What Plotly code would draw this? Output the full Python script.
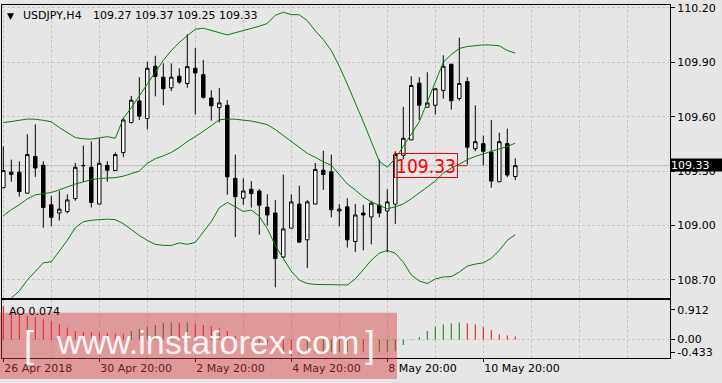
import plotly.graph_objects as go

# ---------------- data ----------------
bar_index = list(range(65))  # H4 bars, 26 Apr 20:00 ... 11 May 12:00

opens = [109.208, 109.294, 109.294, 109.178, 109.381, 109.332, 109.114, 109.069, 109.077, 109.148,
         109.331, 109.321, 109.118, 109.331, 109.303, 109.402, 109.568, 109.687, 109.590, 109.878,
         109.818, 109.759, 109.823, 109.783, 109.867, 109.832, 109.703, 109.650, 109.663, 109.260,
         109.150, 109.200, 109.190, 109.101, 109.069, 108.826, 108.985, 109.118, 108.921, 109.118,
         109.305, 109.296, 109.080, 109.103, 108.912, 109.069, 109.047, 109.112, 109.080, 109.118,
         109.387, 109.472, 109.785, 109.652, 109.663, 109.745, 109.889, 109.700, 109.794, 109.423,
         109.451, 109.405, 109.241, 109.451, 109.27]
highs = [109.436, 109.363, 109.354, 109.503, 109.558, 109.354, 109.163, 109.190, 109.172, 109.345,
         109.441, 109.463, 109.481, 109.354, 109.403, 109.594, 109.714, 109.818, 109.903, 109.936,
         109.894, 109.894, 109.867, 110.054, 109.978, 109.913, 109.745, 109.758, 109.691, 109.391,
         109.260, 109.245, 109.200, 109.172, 109.140, 109.281, 109.172, 109.220, 109.140, 109.345,
         109.412, 109.391, 109.118, 109.150, 109.118, 109.114, 109.136, 109.363, 109.200, 109.409,
         109.654, 109.823, 109.818, 109.845, 109.754, 109.939, 109.892, 110.036, 109.818, 109.663,
         109.496, 109.582, 109.512, 109.534, 109.37]
lows = [109.208, 109.241, 109.159, 109.178, 109.268, 108.987, 108.996, 109.027, 109.067, 109.136,
        109.241, 109.099, 109.118, 109.241, 109.303, 109.376, 109.563, 109.582, 109.530, 109.712,
        109.663, 109.741, 109.781, 109.759, 109.612, 109.699, 109.578, 109.568, 109.169, 108.936,
        109.114, 109.099, 108.949, 109.000, 108.659, 108.820, 108.985, 108.908, 108.766, 109.118,
        109.196, 109.045, 108.996, 108.878, 108.854, 108.863, 108.896, 109.045, 108.852, 109.009,
        109.365, 109.472, 109.582, 109.652, 109.612, 109.699, 109.639, 109.688, 109.336, 109.409,
        109.332, 109.208, 109.241, 109.267, 109.25]
closes = [109.303, 109.281, 109.187, 109.391, 109.317, 109.099, 109.045, 109.090, 109.141, 109.321,
          109.330, 109.127, 109.343, 109.305, 109.391, 109.582, 109.691, 109.603, 109.867, 109.822,
          109.754, 109.818, 109.791, 109.876, 109.841, 109.707, 109.660, 109.676, 109.268, 109.159,
          109.190, 109.176, 109.112, 109.058, 108.818, 108.981, 109.130, 108.908, 109.130, 109.309,
          109.281, 109.087, 109.090, 108.921, 109.058, 109.058, 109.123, 109.069, 109.130, 109.391,
          109.481, 109.772, 109.663, 109.676, 109.754, 109.878, 109.688, 109.783, 109.432, 109.462,
          109.409, 109.245, 109.462, 109.278, 109.33]

bb_upper = [109.567, 109.572, 109.580, 109.587, 109.586, 109.580, 109.572, 109.540, 109.510, 109.485,
            109.478, 109.476, 109.483, 109.490, 109.481, 109.590, 109.649, 109.714, 109.780, 109.840,
            109.911, 109.965, 110.009, 110.047, 110.082, 110.088, 110.077, 110.063, 110.051, 110.063,
            110.074, 110.085, 110.099, 110.114, 110.159, 110.176, 110.163, 110.162, 110.129, 110.074,
            110.025, 109.965, 109.878, 109.780, 109.681, 109.572, 109.463, 109.354, 109.321, 109.370,
            109.436, 109.507, 109.572, 109.681, 109.791, 109.900, 109.943, 109.976, 109.987, 109.991,
            109.996, 109.995, 109.991, 109.965, 109.951]
bb_middle = [109.054, 109.087, 109.114, 109.147, 109.169, 109.174, 109.182, 109.196, 109.212, 109.229,
             109.240, 109.253, 109.259, 109.261, 109.264, 109.272, 109.286, 109.300, 109.343, 109.368,
             109.384, 109.403, 109.430, 109.463, 109.490, 109.518, 109.550, 109.583, 109.587, 109.586,
             109.582, 109.576, 109.567, 109.556, 109.529, 109.496, 109.466, 109.430, 109.398, 109.376,
             109.351, 109.332, 109.283, 109.229, 109.196, 109.158, 109.130, 109.109, 109.092, 109.103,
             109.119, 109.147, 109.179, 109.208, 109.245, 109.289, 109.316, 109.338, 109.363, 109.381,
             109.395, 109.406, 109.420, 109.436, 109.454]
bb_lower = [108.560, 108.601, 108.639, 108.699, 108.748, 108.794, 108.800, 108.858, 108.918, 108.988,
            109.021, 109.029, 109.032, 109.035, 109.032, 109.010, 108.978, 108.945, 108.918, 108.896,
            108.890, 108.890, 108.904, 108.896, 108.907, 108.961, 109.021, 109.098, 109.127, 109.103,
            109.077, 109.085, 109.051, 108.983, 108.890, 108.818, 108.748, 108.699, 108.680, 108.675,
            108.675, 108.672, 108.672, 108.672, 108.705, 108.754, 108.808, 108.847, 108.863, 108.847,
            108.798, 108.727, 108.694, 108.680, 108.705, 108.716, 108.718, 108.743, 108.776, 108.787,
            108.794, 108.819, 108.863, 108.918, 108.949]

ao_values = [0.78, 0.63, 0.57, 0.55, 0.52, 0.47, 0.43, 0.355, 0.28, 0.20,
             0.186, 0.176, 0.162, 0.158, 0.139, 0.135, 0.20, 0.24, 0.30, 0.34,
             0.39, 0.40, 0.39, 0.40, 0.37, 0.34, 0.316, 0.278, 0.20, 0.084,
             -0.01, -0.06, -0.10, -0.14, -0.186, -0.30, -0.38, -0.34, -0.325, -0.30,
             -0.29, -0.285, -0.28, -0.278, -0.275, -0.28, -0.285, -0.28, -0.278, -0.27,
             -0.126, 0.01, 0.06, 0.20, 0.30, 0.355, 0.378, 0.40, 0.378, 0.355,
             0.29, 0.22, 0.123, 0.098, 0.074]

time_tick_idx = [0, 12, 24, 36, 48, 60]
time_tick_text = ["26 Apr 2018", "30 Apr 20:00", "2 May 20:00", "4 May 20:00", "8 May 20:00", "10 May 20:00"]
price_ticks = [108.70, 109.00, 109.30, 109.60, 109.90, 110.20]
ao_scale_labels = ["0.912", "0.00", "-0.433"]
ao_scale_max, ao_scale_min = 0.912, -0.433
symbol = "USDJPY,H4"
last_ohlc_text = "109.27 109.37 109.25 109.33"
last_price = 109.33
ao_last = 0.074

# ---------------- layout constants ----------------
W, H = 722, 383
BG = "#E6E6E6"
GRID = "#C6C6C6"
FONT = "DejaVu Sans"


def px(x):
    return x / W


def py(y):
    return 1 - y / H


xr = [-0.1625, 83.34]
xdom = [px(2), px(670)]

fig = go.Figure()

fig.add_trace(go.Candlestick(
    x=bar_index, open=opens, high=highs, low=lows, close=closes,
    increasing=dict(line=dict(color="black", width=1), fillcolor="white"),
    decreasing=dict(line=dict(color="black", width=1), fillcolor="black"),
    whiskerwidth=0, xaxis="x", yaxis="y", showlegend=False, hoverinfo="skip"))

for band in (bb_upper, bb_middle, bb_lower):
    fig.add_trace(go.Scatter(x=bar_index, y=band, mode="lines",
                             line=dict(color="#008000", width=1),
                             xaxis="x", yaxis="y", showlegend=False, hoverinfo="skip"))

# AO histogram as thin 1px vertical strokes (green = rising, red = falling)
seg = {"#008000": ([], []), "#FF0000": ([], [])}
for i, v in enumerate(ao_values):
    col = "#008000" if i > 0 and v >= ao_values[i - 1] else "#FF0000"
    xs, ys = seg[col]
    xs += [bar_index[i], bar_index[i], None]
    ys += [0, v, None]
for col, (xs, ys) in seg.items():
    fig.add_trace(go.Scatter(x=xs, y=ys, mode="lines", line=dict(color=col, width=1),
                             xaxis="x2", yaxis="y2", showlegend=False, hoverinfo="skip",
                             connectgaps=False))

grid6 = list(range(0, 84, 6))

fig.update_layout(
    width=W, height=H, margin=dict(l=0, r=0, t=0, b=0),
    paper_bgcolor=BG, plot_bgcolor=BG, boxgap=0.38,
    xaxis=dict(domain=xdom, range=xr, anchor="y", tickmode="array", tickvals=grid6,
               showticklabels=False, ticks="", showgrid=True, gridcolor=GRID,
               griddash="3px,2px", gridwidth=1, showline=True, linecolor="black",
               linewidth=1, mirror=True, zeroline=False,
               rangeslider=dict(visible=False), fixedrange=True),
    yaxis=dict(domain=[py(298.5), py(2)], range=[108.598, 110.216], side="right",
               anchor="x", tickmode="array", tickvals=price_ticks, tickformat=".2f",
               ticks="outside", ticklen=4, tickcolor="black", showgrid=True,
               gridcolor=GRID, griddash="3px,2px", showline=True, linecolor="black",
               linewidth=1, mirror=True, zeroline=False, ticklabeloverflow="allow",
               tickfont=dict(family=FONT, size=11, color="black")),
    xaxis2=dict(domain=xdom, range=xr, anchor="y2", tickmode="array",
                tickvals=time_tick_idx, ticktext=time_tick_text, ticks="outside",
                ticklen=3, tickcolor="black", ticklabelposition="outside right",
                tickfont=dict(family=FONT, size=11, color="black"),
                showgrid=True, gridcolor=GRID, griddash="3px,2px",
                minor=dict(tickmode="array", tickvals=grid6, showgrid=True,
                           gridcolor=GRID, griddash="3px,2px", ticks=""),
                showline=True, linecolor="black", linewidth=1, mirror=True,
                zeroline=False, fixedrange=True),
    yaxis2=dict(domain=[py(359), py(300.5)], range=[ao_scale_min, ao_scale_max],
                side="right", anchor="x2", tickmode="array",
                tickvals=[0.692, 0.0, -0.29], ticktext=ao_scale_labels,
                ticks="outside", ticklen=4, tickcolor="black", showgrid=False,
                showline=True, linecolor="black", linewidth=1, mirror=True,
                zeroline=False, tickfont=dict(family=FONT, size=11, color="black")),
)

shapes = [
    # bid line
    dict(type="line", xref="x domain", yref="y", x0=0, x1=1, y0=last_price, y1=last_price,
         line=dict(color="#BEBEBE", width=1), layer="below"),
    # AO zero level
    dict(type="line", xref="x2 domain", yref="y2", x0=0, x1=1, y0=0, y1=0,
         line=dict(color=GRID, width=1, dash="3px,2px"), layer="below"),
    # red price-label connector
    dict(type="line", xref="x", yref="y", x0=56.75, x1=58.0, y0=last_price, y1=last_price,
         line=dict(color="#FF0000", width=1)),
    # watermark band
    dict(type="rect", xref="paper", yref="paper", x0=0, x1=px(397), y0=py(380), y1=py(313),
         fillcolor="rgba(215,60,65,0.45)", line=dict(width=0), layer="above"),
]
fig.update_layout(shapes=shapes)

annotations = [
    dict(text="\u25bc", xref="paper", yref="paper", x=px(10.8), y=py(12.7),
         xanchor="center", yanchor="middle", showarrow=False, borderpad=0,
         font=dict(family=FONT, size=9, color="black")),
    dict(text=symbol, xref="paper", yref="paper", x=px(21.5), y=py(12.7),
         xanchor="left", yanchor="middle", showarrow=False, borderpad=0,
         font=dict(family=FONT, size=11, color="black")),
    dict(text=last_ohlc_text, xref="paper", yref="paper", x=px(91.5), y=py(12.7),
         xanchor="left", yanchor="middle", showarrow=False, borderpad=0,
         font=dict(family=FONT, size=11, color="black")),
    dict(text=f"AO {ao_last:.3f}", xref="paper", yref="paper", x=px(8), y=py(311.7),
         xanchor="left", yanchor="middle", showarrow=False, borderpad=0,
         font=dict(family=FONT, size=11, color="black")),
    # red price label on chart
    dict(text=f"{last_price:.2f}", xref="x", yref="y", x=48.875, y=last_price,
         xanchor="left", yanchor="middle", showarrow=False, borderpad=0,
         width=62, height=23, bordercolor="#FF0000", borderwidth=1,
         font=dict(family="DejaVu Sans Condensed, DejaVu Sans", size=19,
                   color="#FF0000")),
    # current price tag on axis
    dict(text=f"{last_price:.2f}", xref="paper", yref="paper", x=px(670), y=py(164.2),
         xanchor="left", yanchor="middle", showarrow=False, borderpad=0,
         width=52, height=12, align="left", bgcolor="black",
         font=dict(family=FONT, size=11, color="white")),
    # watermark text
    dict(text="[", xref="paper", yref="paper", x=px(29), y=py(345),
         xanchor="center", yanchor="middle", showarrow=False,
         font=dict(family="Liberation Sans", size=36, color="rgba(255,255,255,0.92)")),
    dict(text="www.instaforex.com", xref="paper", yref="paper", x=px(207), y=py(343),
         xanchor="center", yanchor="middle", showarrow=False,
         font=dict(family="Liberation Sans", size=34, color="rgba(255,255,255,0.92)")),
    dict(text="]", xref="paper", yref="paper", x=px(370), y=py(345),
         xanchor="center", yanchor="middle", showarrow=False,
         font=dict(family="Liberation Sans", size=36, color="rgba(255,255,255,0.92)")),
]
fig.update_layout(annotations=annotations)

fig.write_html("out.html")
